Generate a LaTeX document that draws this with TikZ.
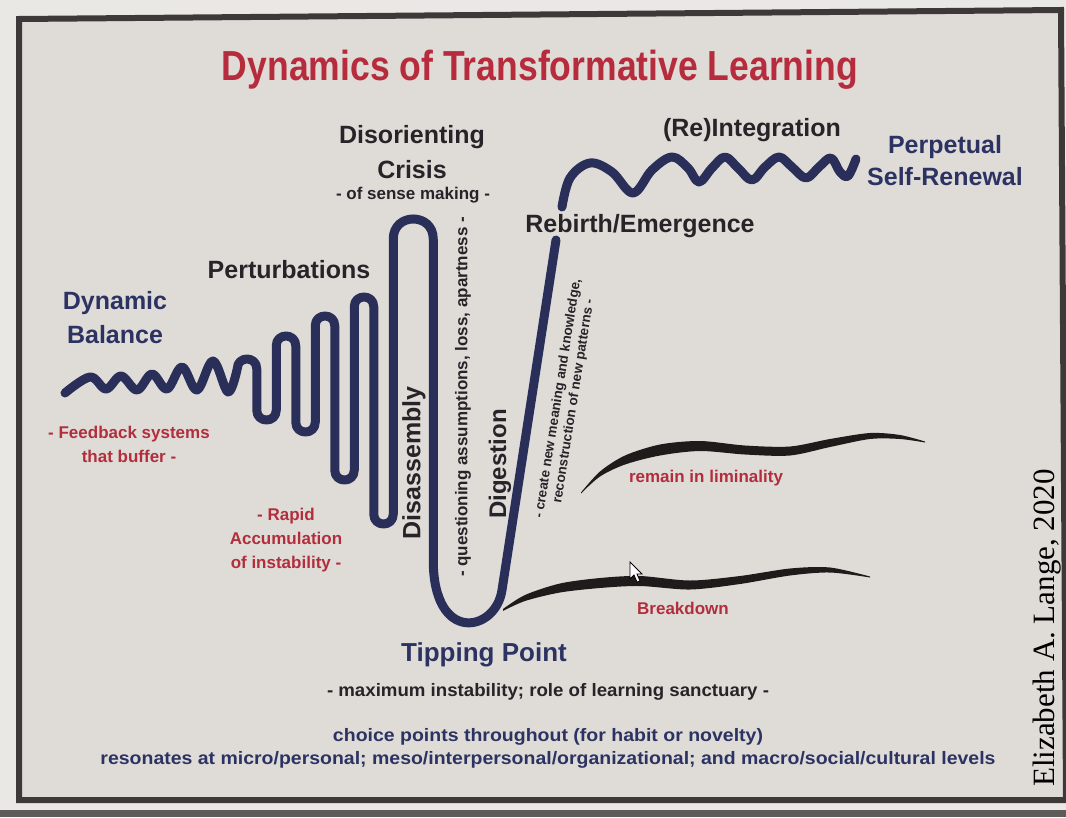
\documentclass[tikz,border=0pt]{standalone}
\usepackage{fontspec}
\setmainfont{Liberation Sans}
\newfontfamily\creditfont{Liberation Serif}
\usepackage{tikz}
\usetikzlibrary{positioning}

\definecolor{outerbg}{RGB}{234,232,229}
\definecolor{bezelgray}{RGB}{95,91,90}
\definecolor{slidebg}{RGB}{223,220,216}
\definecolor{framegray}{RGB}{62,57,57}
\definecolor{curvenavy}{RGB}{42,47,90}
\definecolor{brushblack}{RGB}{32,27,27}
\definecolor{titlered}{RGB}{182,44,60}
\definecolor{labelred}{RGB}{178,46,60}
\definecolor{labeldark}{RGB}{38,36,40}
\definecolor{labelnavy}{RGB}{44,51,98}

\newcommand{\fitto}[2]{\resizebox{#1}{\height}{#2}}

\begin{document}
\begin{tikzpicture}[x=1pt,y=-1pt,
  heading/.style={font=\bfseries\fontsize{25}{34}\selectfont,inner sep=0pt,
    text=labeldark,align=center},
  navyheading/.style={heading,text=labelnavy},
  redlabel/.style={font=\bfseries\fontsize{17}{24}\selectfont,inner sep=0pt,
    text=labelred,align=center},
  sublabel/.style={font=\bfseries\fontsize{17}{20}\selectfont,inner sep=0pt,
    text=labeldark,align=center},
  curve/.style={draw=curvenavy,line width=\wavewidth pt,line cap=round,
    line join=round}]
  \pgfmathsetmacro{\wavewidth}{9}
  \useasboundingbox (0,0) rectangle (1066,817);

  % Draw screen and slide frame
  \fill[outerbg] (0,0) rectangle (1066,817);
  \fill[bezelgray] (0,810) rectangle (1066,817);
  \fill[slidebg] (19,19) -- (1061,10) -- (1066,800) -- (19,800) -- cycle;
  \draw[framegray,line width=6pt] (19,19) -- (1061,10) -- (1066,800)
        -- (19,800) -- cycle;

  % Draw title
  \node[font=\bfseries\fontsize{42}{46}\selectfont,text=titlered,inner sep=0pt]
        (title) at (540,70) {\fitto{636pt}{Dynamics of Transformative Learning}};

  % Draw wave from balance to the tipping point
  \draw[curve] plot[smooth,tension=0.6] coordinates {
        (65,393) (90,377) (106,389) (121,376) (137,390) (152,374) (167,389)
        (182,367) (197,390) (213,361) (228,392) (237.25,368.75)}
        .. controls (237.25,355.75) and (256.75,355.75) .. (256.75,368.75)
        -- (256.75,410.25)
        .. controls (256.75,423.25) and (276.25,423.25) .. (276.25,410.25)
        -- (276.25,345.75)
        .. controls (276.25,332.75) and (295.75,332.75) .. (295.75,345.75)
        -- (295.75,422.25)
        .. controls (295.75,435.25) and (315.25,435.25) .. (315.25,422.25)
        -- (315.25,325.75)
        .. controls (315.25,312.75) and (334.75,312.75) .. (334.75,325.75)
        -- (334.75,470.25)
        .. controls (334.75,483.25) and (354.25,483.25) .. (354.25,470.25)
        -- (354.25,306.75)
        .. controls (354.25,293.75) and (373.75,293.75) .. (373.75,306.75)
        -- (373.75,514.25)
        .. controls (373.75,527.25) and (393.25,527.25) .. (393.25,514.25)
        -- (393.25,239)
        .. controls (393.25,212.3) and (433.25,212.3) .. (433.25,239)
        -- (433.25,560)
        .. controls (433.25,645) and (496,632) .. (502,590) -- (556,240);

  % Draw wave of integration
  \draw[curve] plot[smooth,tension=0.6] coordinates {
        (562,207) (570,178) (590,163) (612,172) (633,193)
        (652,170) (672,157) (688,168) (699,182)
        (712,168) (725,157) (738,168) (752,180)
        (765,167) (779,157) (792,167) (806,178)
        (819,167) (831,158) (840,172) (848,176) (856,159)};

  % Draw liminality stroke
  \fill[brushblack] plot[smooth] coordinates {
        (581,492.5) (600,471.5) (625,455.5) (660,444.5) (700,441)
        (745,445.5) (790,446.5) (830,439) (870,433) (900,435) (925,441.5)}
        -- plot[smooth] coordinates {
        (925,442.5) (900,439) (870,439) (830,447) (790,455.5) (745,454.5)
        (700,451) (660,455.5) (625,464.5) (600,476.5) (581,493.5)} -- cycle;

  % Draw breakdown stroke
  \fill[brushblack] plot[smooth] coordinates {
        (503,609) (525,595) (560,583.5) (600,578) (640,576) (690,580.5)
        (740,576) (790,568.5) (830,567.5) (870,576.5)}
        -- plot[smooth] coordinates {
        (870,577.5) (830,572.5) (790,575.5) (740,584) (690,589.5)
        (640,586) (600,588) (560,592.5) (525,601) (503,611)} -- cycle;

  % Draw mouse pointer
  \draw[fill=white,line width=0.8pt] (630,562) -- (630,579) -- (634,575)
        -- (637,582) -- (640,581) -- (637,574) -- (642,574) -- cycle;

  % Draw stage labels
  \node[navyheading] (balance) at (115,318) {Dynamic\\Balance};
  \node[heading] (perturb) at (289,270) {Perturbations};
  \node[heading,font=\bfseries\fontsize{25}{35}\selectfont]
        (crisis) at (412,152) {Disorienting\\Crisis};
  \node[sublabel] (sensemaking) at (413,195) {- of sense making -};
  \node[heading] (rebirth) at (640,226) {Rebirth/Emergence};
  \node[heading] (integration) at (752,130) {(Re)Integration};
  \node[navyheading,font=\bfseries\fontsize{25}{32}\selectfont]
        (renewal) at (945,161) {Perpetual\\Self-Renewal};
  \node[navyheading,font=\bfseries\fontsize{26}{30}\selectfont]
        (tipping) at (484,655) {Tipping Point};

  % Draw rotated labels along the dip
  \node[heading,rotate=90] (disassembly) at (414,463) {Disassembly};
  \node[sublabel,rotate=90] (questioning) at (463,397)
        {- questioning assumptions, loss, apartness -};
  \node[heading,font=\bfseries\fontsize{24}{28}\selectfont,rotate=90]
        (digestion) at (500,464) {Digestion};
  \node[sublabel,font=\bfseries\fontsize{13.5}{16}\selectfont,rotate=81]
        (meaning) at (566,400)
        {- create new meaning and knowledge,\\reconstruction of new patterns -};

  % Draw red notes
  \node[redlabel] (feedback) at (129,444) {- Feedback systems\\that buffer -};
  \node[redlabel] (rapid) at (286,540) {- Rapid\\Accumulation\\of instability -};
  \node[redlabel] (liminality) at (706,478) {remain in liminality};
  \node[redlabel] (breakdown) at (683,608) {Breakdown};

  % Draw bottom notes
  \node[sublabel,font=\bfseries\fontsize{18}{20}\selectfont] (sanctuary)
        at (548,692) {\fitto{442pt}{- maximum instability; role of learning sanctuary -}};
  \node[sublabel,font=\bfseries\fontsize{18}{20}\selectfont,text=labelnavy]
        (choice) at (548,737) {\fitto{430pt}{choice points throughout (for habit or novelty)}};
  \node[sublabel,font=\bfseries\fontsize{18}{20}\selectfont,text=labelnavy]
        (levels) at (548,760) {\fitto{895pt}{resonates at micro/personal;
        meso/interpersonal/organizational; and macro/social/cultural levels}};

  % Draw credit
  \node[font=\creditfont\fontsize{31}{34}\selectfont,text=black,inner sep=0pt,
        rotate=90] (credit) at (1047,628) {Elizabeth A. Lange, 2020};
\end{tikzpicture}
\end{document}
